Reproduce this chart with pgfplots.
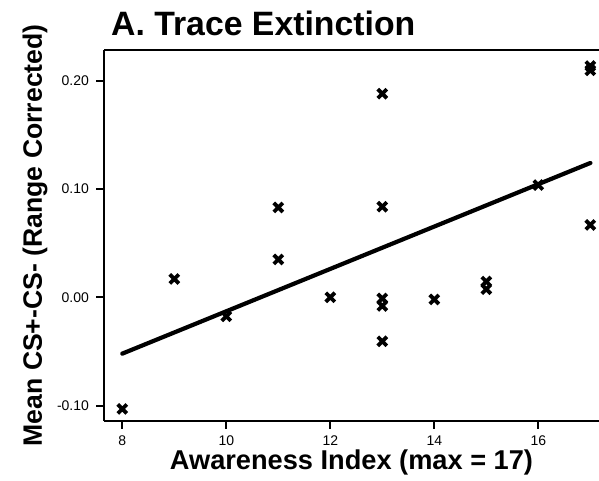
\documentclass[border=0pt]{standalone}
\usepackage{pgfplots}
\pgfplotsset{compat=1.18}
\usepackage{fontspec}
\setmainfont{Liberation Sans}
\begin{document}
\begin{tikzpicture}
\begin{axis}[
  scale only axis,
  width=247.5pt, height=185.35pt,
  xmin=7.648, xmax=17.167,
  ymin=-0.1139, ymax=0.2283,
  axis x line=box, axis y line=left,
  x axis line style={-}, y axis line style={-},
  axis line style={line width=0.9pt, black},
  xtick={8,10,12,14,16},
  ytick={-0.1,0,0.1,0.2},
  xtick pos=bottom,
  tick align=outside,
  major tick length=4pt,
  every tick/.style={line width=0.9pt, black},
  /pgf/number format/assume math mode=true,
  yticklabel={\pgfmathprintnumber[fixed,fixed zerofill,precision=2]{\tick}},
  ticklabel style={font=\fontsize{7}{8}\selectfont},
  xlabel={\textbf{Awareness Index (max = 17)}},
  ylabel={\textbf{Mean CS+-CS- (Range Corrected)}},
  xlabel style={at={(axis description cs:0.5,-0.1311)}, anchor=base, inner sep=0pt, font=\fontsize{13.6}{15}\selectfont},
  ylabel style={at={(axis description cs:-0.1253,0.5)}, anchor=base, inner sep=0pt, font=\fontsize{13.3}{15}\selectfont},
  clip=false,
]
\addplot[only marks, mark=x, mark size=3.2pt, mark options={line width=1.9pt, black}] coordinates {
(8,-0.103) (9,0.017) (10,-0.0175) (11,0.083) (11,0.035) (12,0.000)
(13,0.188) (13,0.0837) (13,-0.001) (13,-0.008) (13,-0.0406)
(14,-0.002) (15,0.0145) (15,0.0075) (16,0.1036)
(17,0.2135) (17,0.2095) (17,0.0668)
};
\addplot[black, line width=2.1pt, line cap=round] coordinates {(8,-0.052) (17,0.124)};
\end{axis}
\node[anchor=base west, inner sep=0pt, font=\fontsize{16.9}{18}\selectfont\bfseries] at (3.35pt,192.35pt) {A. Trace Extinction};
\pgfresetboundingbox
\path[use as bounding box] (-52pt,-30.15pt) rectangle (247.5pt,210.35pt);
\end{tikzpicture}
\end{document}
